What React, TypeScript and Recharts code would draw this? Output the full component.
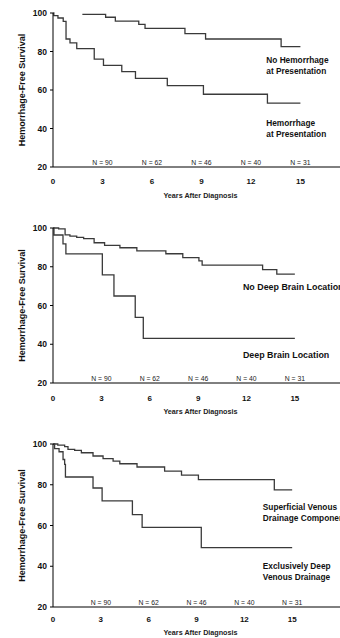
import { Line, LineChart, ReferenceDot, XAxis, YAxis } from "recharts";

const xTicks = [0, 3, 6, 9, 12, 15];
const yTicks = [20, 40, 60, 80, 100];
const atRisk = [90, 62, 46, 40, 31];
const yTitle = "Hemorrhage-Free Survival";
const xTitle = "Years After Diagnosis";

// panel 1: hemorrhage at presentation
const noHemYears = [1.78, 3.19, 3.78, 5.2, 5.58, 8.0, 9.25, 13.83, 15];
const noHemSurv = [99.3, 97.8, 95.8, 94.1, 92.0, 89.3, 86.5, 82.5, 82.5];
const hemYears = [0, 0.05, 0.3, 0.62, 0.79, 1.03, 1.44, 2.5, 3.06, 4.17, 5.0, 6.93, 9.12, 13.0, 15];
const hemSurv = [100, 98.6, 97.4, 95.6, 86.5, 84.5, 81.5, 76, 72.8, 69.5, 66, 62.3, 57.8, 53.2, 53.2];

// panel 2: deep brain location
const noDeepYears = [0, 0.35, 0.75, 1.05, 1.47, 1.9, 2.55, 3.2, 4.15, 5.2, 7.0, 8.05, 9.05, 9.25, 13.0, 13.88, 15];
const noDeepSurv = [100, 99.5, 96.5, 95.8, 95.2, 94.5, 92.4, 91.0, 89.8, 88.2, 86.7, 84.7, 83, 80.8, 78.5, 76.2, 76.2];
const deepYears = [0, 0.06, 0.62, 0.8, 3.06, 3.78, 5.1, 5.6, 15];
const deepSurv = [100, 96.4, 91.8, 86.6, 75.8, 64.9, 53.9, 43, 43];

// panel 3: venous drainage
const supYears = [0, 0.3, 0.73, 0.94, 1.36, 1.78, 2.51, 3.14, 3.77, 4.19, 5.27, 7.0, 8.06, 9.12, 13.88, 15];
const supSurv = [100, 99.4, 98.7, 97.4, 96.9, 95.7, 94.1, 92.8, 91.6, 90.3, 88.7, 86.7, 84.7, 82.5, 77.5, 77.5];
const exDeepYears = [0, 0.1, 0.38, 0.63, 0.73, 0.78, 2.51, 3.08, 4.98, 5.59, 9.3, 15];
const exDeepSurv = [100, 97.7, 96.2, 92.4, 90, 83.8, 78.4, 72.1, 65.3, 59.1, 49.1, 49.1];

const steps = (years: number[], surv: number[]) => years.map((t, i) => ({ t, s: surv[i] }));

type CurveLabel = { x: number; y: number; lines: string[] };

const panels = [
  {
    top: 0,
    height: 210,
    marginTop: 13,
    axisHeight: 43,
    xMax: 17.4,
    tickGap: 17,
    titleGap: 31,
    labelSize: 8.3,
    series: [steps(noHemYears, noHemSurv), steps(hemYears, hemSurv)],
    labels: [
      { x: 12.93, y: 74.1, lines: ["No Hemorrhage", "at Presentation"] },
      { x: 12.93, y: 41.1, lines: ["Hemorrhage", "at Presentation"] },
    ] as CurveLabel[],
  },
  {
    top: 210,
    height: 210,
    marginTop: 18,
    axisHeight: 37,
    xMax: 17.8,
    tickGap: 18,
    titleGap: 31,
    labelSize: 8.9,
    series: [steps(noDeepYears, noDeepSurv), steps(deepYears, deepSurv)],
    labels: [
      { x: 11.78, y: 68.2, lines: ["No Deep Brain Location"] },
      { x: 11.78, y: 33.1, lines: ["Deep Brain Location"] },
    ] as CurveLabel[],
  },
  {
    top: 420,
    height: 218,
    marginTop: 24,
    axisHeight: 31,
    xMax: 18.0,
    tickGap: 15,
    titleGap: 28,
    labelSize: 8.3,
    series: [steps(supYears, supSurv), steps(exDeepYears, exDeepSurv)],
    labels: [
      { x: 13.16, y: 67.6, lines: ["Superficial Venous", "Drainage Component"] },
      { x: 13.16, y: 38.6, lines: ["Exclusively Deep", "Venous Drainage"] },
    ] as CurveLabel[],
  },
];

// tick y arrives 4px below the axis line (tickSize 4, tickMargin 0)
function XTick(props: any) {
  const { x, y, payload, gap } = props;
  const idx = xTicks.indexOf(payload.value);
  return (
    <g>
      <text x={x} y={y - 4 + gap} textAnchor="middle" fontSize={8} fontWeight={700} fill="#111">
        {String(payload.value)}
      </text>
      {idx > 0 && (
        <text x={x} y={y - 6} textAnchor="middle" fontSize={6.8} fill="#222">
          N = {atRisk[idx - 1]}
        </text>
      )}
    </g>
  );
}

function Panel({ p }: { p: (typeof panels)[number] }) {
  return (
    <div style={{ position: "absolute", left: 0, top: p.top }}>
      <LineChart width={340} height={p.height} margin={{ top: p.marginTop, right: 0, bottom: 0, left: 0 }}>
        <XAxis
          type="number"
          dataKey="t"
          domain={[0, p.xMax]}
          ticks={xTicks}
          interval={0}
          allowDataOverflow
          height={p.axisHeight}
          tickLine={false}
          tickSize={4}
          tickMargin={0}
          axisLine={{ stroke: "#000" }}
          tick={(props: any) => <XTick {...props} gap={p.tickGap} />}
          label={(lp: any) => {
            const vb = lp.viewBox;
            return (
              <text x={vb.x + vb.width / 2 + 4} y={vb.y + p.titleGap} textAnchor="middle" fontSize={7.2} fontWeight={700} fill="#222">
                {xTitle}
              </text>
            );
          }}
        />
        <YAxis
          type="number"
          domain={[20, 100]}
          ticks={yTicks}
          interval={0}
          width={53}
          tickSize={3}
          tickMargin={3}
          axisLine={{ stroke: "#000" }}
          tickLine={{ stroke: "#000" }}
          tick={{ fontSize: 8.5, fontWeight: 700, fill: "#111" }}
          label={(lp: any) => {
            const vb = lp.viewBox;
            const cx = vb.x + 22;
            const cy = vb.y + vb.height / 2;
            return (
              <text x={cx} y={cy} transform={`rotate(-90, ${cx}, ${cy})`} textAnchor="middle" dominantBaseline="central" fontSize={9} fontWeight={700} fill="#111">
                {yTitle}
              </text>
            );
          }}
        />
        {p.series.map((d, i) => (
          <Line
            key={i}
            data={d}
            dataKey="s"
            type="stepAfter"
            stroke="#3a3a3a"
            strokeWidth={1.3}
            dot={false}
            isAnimationActive={false}
          />
        ))}
        {p.labels.map((l, i) => (
          <ReferenceDot
            key={i}
            x={l.x}
            y={l.y}
            r={0}
            shape={(sp: any) => (
              <text x={sp.cx} y={sp.cy} fontSize={p.labelSize} fontWeight={700} fill="#111">
                {l.lines.map((line, j) => (
                  <tspan key={j} x={sp.cx} dy={j === 0 ? 0 : 11}>
                    {line}
                  </tspan>
                ))}
              </text>
            )}
          />
        ))}
      </LineChart>
    </div>
  );
}

export default function App() {
  return (
    <div
      style={{
        position: "absolute",
        left: 0,
        top: 0,
        width: 340,
        height: 638,
        background: "#fff",
        fontFamily: "'Liberation Sans', Arial, sans-serif",
        overflow: "hidden",
      }}
    >
      {panels.map((p, i) => (
        <Panel key={i} p={p} />
      ))}
    </div>
  );
}
